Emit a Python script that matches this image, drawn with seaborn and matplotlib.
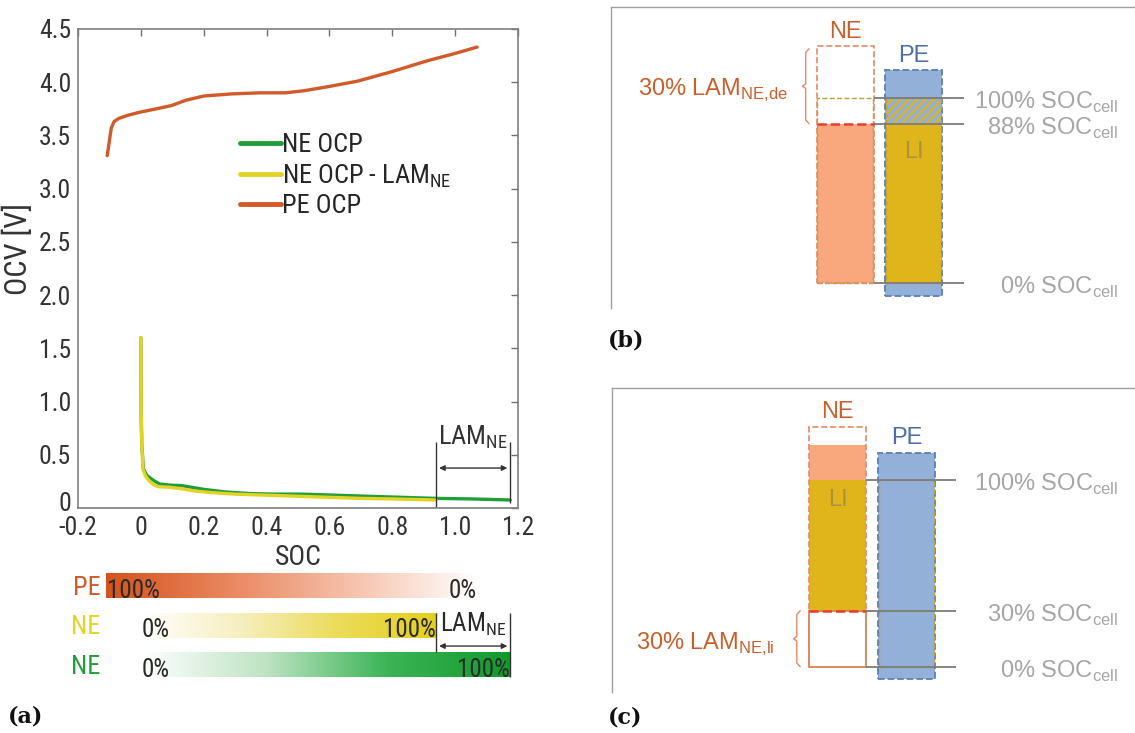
import matplotlib
matplotlib.use('Agg')
import matplotlib.pyplot as plt
from matplotlib import font_manager
from matplotlib.colors import LinearSegmentedColormap
from matplotlib.transforms import ScaledTranslation
import numpy as np
import pandas as pd
import seaborn as sns

# ----------------------
# 1. data
# ----------------------
# (a) open circuit potentials vs. SOC
pe_soc = [-0.107, -0.100, -0.094, -0.085, -0.070, -0.040, 0.0, 0.05, 0.097, 0.143, 0.20,
          0.29, 0.38, 0.46, 0.52, 0.60, 0.69, 0.80, 0.91, 1.00, 1.07]
pe_ocv = [3.31, 3.45, 3.57, 3.63, 3.66, 3.69, 3.72, 3.75, 3.78, 3.83, 3.87,
          3.89, 3.90, 3.90, 3.92, 3.96, 4.01, 4.10, 4.20, 4.27, 4.33]

ne_soc = [0.0, 0.001, 0.003, 0.008, 0.018, 0.030, 0.045, 0.060, 0.090, 0.130, 0.160,
          0.20, 0.27, 0.35, 0.42, 0.51, 0.62, 0.72, 0.83, 0.94, 1.05, 1.175]
ne_ocv = [1.60, 0.90, 0.60, 0.37, 0.31, 0.28, 0.25, 0.225, 0.215, 0.21, 0.195,
          0.175, 0.15, 0.135, 0.13, 0.13, 0.12, 0.11, 0.10, 0.09, 0.085, 0.075]

ne_lam_soc = [0.0, 0.001, 0.003, 0.007, 0.015, 0.025, 0.040, 0.055, 0.090, 0.130, 0.170,
              0.22, 0.30, 0.40, 0.50, 0.60, 0.70, 0.80, 0.94]
ne_lam_ocv = [1.60, 0.90, 0.60, 0.36, 0.30, 0.26, 0.22, 0.20, 0.195, 0.18, 0.16,
              0.145, 0.13, 0.12, 0.11, 0.10, 0.09, 0.085, 0.075]

x_ticks = [-0.2, 0, 0.2, 0.4, 0.6, 0.8, 1.0, 1.2]
x_ticklabels = ['-0.2', '0', '0.2', '0.4', '0.6', '0.8', '1.0', '1.2']
y_ticks = [0, 0.5, 1.0, 1.5, 2.0, 2.5, 3.0, 3.5, 4.0, 4.5]
y_ticklabels = ['0', '0.5', '1.0', '1.5', '2.0', '2.5', '3.0', '3.5', '4.0', '4.5']

# SOC windows of the electrode bars under (a)
bar_names = ['PE', 'NE', 'NE']
bar_start = [-0.11, 0.0, 0.0]
bar_end = [1.07, 0.94, 1.175]
bar_left_text = ['100%', '0%', '0%']
bar_right_text = ['0%', '100%', '100%']
lam_ne = [0.94, 1.175]

# (b) LAM_NE,de  (levels in % of cell capacity)
b_ne_total = 128
b_ne_left = 86
b_cell_full = 100
b_pe_range = [-7, 115]
b_soc_levels = [100, 86, 0]
b_soc_text = ['100%', '88%', '0%']

# (c) LAM_NE,li
c_ne_total = 128
c_ne_fill_top = 118.5
c_li_range = [30, 100]
c_pe_range = [-6.5, 114.5]
c_soc_levels = [100, 30, 0]
c_soc_text = ['100%', '30%', '0%']

# ----------------------
# 2. style
# ----------------------
sns.set_style('white')
ttf = font_manager.fontManager.ttflist
avail = {f.name for f in ttf}
narrow, narrow_stretch = 'Liberation Sans', 'normal'
for cand in ['Liberation Sans Narrow', 'Roboto Condensed', 'Arial Narrow',
             'Noto Sans Condensed', 'Open Sans Condensed']:
    if cand in avail:
        narrow = cand
        break
else:
    if any(f.name == 'DejaVu Sans' and f.stretch == 'condensed' for f in ttf):
        narrow, narrow_stretch = 'DejaVu Sans', 'condensed'
plt.rcParams['font.family'] = [narrow, 'DejaVu Sans']
plt.rcParams['font.stretch'] = narrow_stretch
plt.rcParams['mathtext.fontset'] = 'custom'
plt.rcParams['mathtext.rm'] = narrow if narrow_stretch == 'normal' else 'DejaVu Sans:stretch=condensed'
plt.rcParams['mathtext.sf'] = 'Liberation Sans'
plt.rcParams['hatch.linewidth'] = 1.6

c_green = '#1f9e3a'
c_yellow = '#e3d324'
c_orange = '#d2592a'
c_salmon = '#f8a87c'
c_gold = '#e0b51b'
c_blue = '#93b1d8'
c_blue_edge = '#5a7fb8'
c_ne_edge = '#e58a66'
c_olive = '#b9a13c'
c_red = '#ec3b2a'
c_gray_line = '#7c7c7c'
c_gray_text = '#a6a6a6'
c_ne_text = '#c9602c'
c_pe_text = '#4c70a6'

fig = plt.figure(figsize=(11.35, 7.33), dpi=100)

# ----------------------
# 3. (a) OCP curves
# ----------------------
ax = fig.add_axes([0.0687, 0.3070, 0.3877, 0.6535])
lam_label = r'NE OCP - LAM$_{\mathrm{NE}}$'
curves = pd.concat([
    pd.DataFrame({'SOC': ne_soc, 'OCV': ne_ocv, 'curve': 'NE OCP'}),
    pd.DataFrame({'SOC': ne_lam_soc, 'OCV': ne_lam_ocv, 'curve': lam_label}),
    pd.DataFrame({'SOC': pe_soc, 'OCV': pe_ocv, 'curve': 'PE OCP'}),
], ignore_index=True)
palette = {'NE OCP': c_green, lam_label: c_yellow, 'PE OCP': c_orange}
sns.lineplot(data=curves, x='SOC', y='OCV', hue='curve', palette=palette,
             sort=False, estimator=None, lw=2.4, ax=ax)

ax.set_xlim(-0.2, 1.2)
ax.set_ylim(0, 4.5)
ax.set_xticks(x_ticks, x_ticklabels)
ax.set_yticks(y_ticks, y_ticklabels)
ax.tick_params(direction='in', length=5, width=1, color='#707070', top=True, right=True,
               labelsize=18.5, labelcolor='#333333')
ax.tick_params(axis='x', pad=6)
ax.tick_params(axis='y', pad=5)
# MATLAB puts the "0" label a little above the corner
zero_lab = ax.get_yticklabels()[0]
zero_lab.set_transform(zero_lab.get_transform() + ScaledTranslation(0, 5 / 72, fig.dpi_scale_trans))
for s in ax.spines.values():
    s.set_color('#808080')
    s.set_linewidth(1.2)
ax.set_xlabel('SOC', fontsize=20, color='#333333', labelpad=3)
ax.set_ylabel('OCV [V]', fontsize=22, color='#333333')
ax.yaxis.set_label_coords(-0.102, 0.54)

h, l = ax.get_legend_handles_labels()
leg = ax.legend(h, l, loc='upper left', bbox_to_anchor=(0.368, 0.782), frameon=False,
                fontsize=19, handlelength=1.55, handletextpad=0.05, labelspacing=0.18,
                borderpad=0, borderaxespad=0)
for line in leg.get_lines():
    line.set_linewidth(3.5)

# LAM_NE marker inside the plot
ax.vlines(lam_ne[0], 0, 0.62, color='#333333', lw=1)
ax.vlines(lam_ne[1], 0.05, 0.62, color='#333333', lw=1)
ax.annotate('', xy=(lam_ne[0], 0.375), xytext=(lam_ne[1], 0.375),
            arrowprops=dict(arrowstyle='<|-|>', color='#333333', lw=1, mutation_scale=8))
ax.text(sum(lam_ne) / 2, 0.66, r'LAM$_{\mathrm{NE}}$', ha='center', va='center',
        fontsize=19, color='#333333')

# ----------------------
# 4. (a) electrode SOC bars
# ----------------------
axb = fig.add_axes([0.0687, 0.0655, 0.3877, 0.1596])
axb.patch.set_visible(False)
row_colors = [c_orange, c_yellow, c_green]
ramps = [
    LinearSegmentedColormap.from_list('pe', ['#d4531c', '#e9875f', '#f6c2ac', '#ffffff']),
    LinearSegmentedColormap.from_list('ne_y', ['#ffffff', '#f6efbf', '#ecdc5a', '#e4cf1c']),
    LinearSegmentedColormap.from_list('ne_g', ['#ffffff', '#bfe4c4', '#3cb456', '#119a2c']),
]
ramp = np.linspace(0, 1, 256)[None, :]
bar_h = 0.61
for i, name in enumerate(bar_names):
    axb.imshow(ramp, extent=(bar_start[i], bar_end[i], i + bar_h / 2, i - bar_h / 2),
               cmap=ramps[i], aspect='auto', interpolation='bicubic')
    axb.text(-0.128, i + 0.05, name, ha='right', va='center', fontsize=19, color=row_colors[i])
    axb.text(bar_start[i] + 0.003, i + 0.12, bar_left_text[i], ha='left', va='center',
             fontsize=18, color='#2a2a2a')
    axb.text(bar_end[i], i + 0.12, bar_right_text[i], ha='right', va='center',
             fontsize=18, color='#2a2a2a')
axb.vlines(lam_ne[0], 0.68, 1.67, color='#333333', lw=1)
axb.vlines(lam_ne[1], 0.68, 2.3, color='#333333', lw=1)
axb.annotate('', xy=(lam_ne[0], 1.52), xytext=(lam_ne[1], 1.52),
             arrowprops=dict(arrowstyle='<|-|>', color='#333333', lw=1, mutation_scale=8))
axb.text(sum(lam_ne) / 2, 0.98, r'LAM$_{\mathrm{NE}}$', ha='center', va='center',
         fontsize=18, color='#2a2a2a')
axb.set_xlim(-0.2, 1.2)
axb.set_ylim(2.506, -0.456)
axb.axis('off')


# ----------------------
# 5. (b) and (c) electrode balance sketches
# ----------------------
def frame(a, xlim):
    a.set_xlim(*xlim)
    a.set_ylim(-13.5, 149)
    a.set_xticks([])
    a.set_yticks([])
    a.spines['right'].set_visible(False)
    a.spines['bottom'].set_visible(False)
    for s in ['left', 'top']:
        a.spines[s].set_color('#a0a0a0')
        a.spines[s].set_linewidth(1.0)


def brace(a, x, y0, y1, color):
    ym = (y0 + y1) / 2
    d = 0.05
    a.plot([x + d, x, x, x - d, x, x, x + d],
           [y1, y1 - 2, ym + 1.2, ym, ym - 1.2, y0 + 2, y0], color=color, lw=1)


def soc_labels(a, levels, texts, x_text):
    a.hlines(levels, w / 2, 1.73, color=c_gray_line, lw=1.3, zorder=6)
    for lvl, t in zip(levels, texts):
        a.text(x_text, lvl - 2.5, t + r' SOC$_{\mathsf{cell}}$', ha='right', va='center',
               fontsize=17, color=c_gray_text, family='Liberation Sans', stretch='normal')


w = 0.83
txt_kw = dict(ha='center', va='center', fontsize=17, family='Liberation Sans', stretch='normal')

# (b)
axr = fig.add_axes([0.5383, 0.5798, 0.4617, 0.4106])
frame(axr, (-3.42, 4.23))
axr.bar(1, b_pe_range[1] - b_pe_range[0], bottom=b_pe_range[0], width=w, color=c_blue,
        edgecolor=c_blue_edge, ls='--', lw=1.3)
axr.bar(1, b_ne_left, bottom=0, width=w * 0.96, color=c_gold, lw=0)
axr.bar(1, b_cell_full - b_ne_left, bottom=b_ne_left, width=w * 0.96, facecolor='none',
        edgecolor=c_gold, hatch='////', lw=0)
axr.bar(1, b_cell_full, bottom=0, width=w * 0.96, fill=False, edgecolor=c_olive, ls='--', lw=1)
axr.bar(0, b_ne_left, bottom=0, width=w, color=c_salmon, lw=0)
axr.bar(0, b_cell_full, bottom=0, width=w * 0.98, fill=False, edgecolor=c_olive, ls='--', lw=1)
axr.bar(0, b_ne_total, bottom=0, width=w, fill=False, edgecolor=c_ne_edge, ls='--', lw=1.2)
axr.hlines(b_ne_left, -w / 2, w / 2, color=c_red, ls='--', lw=1.8, zorder=5)
soc_labels(axr, b_soc_levels, b_soc_text, 3.98)
axr.text(0, b_ne_total + 7.5, 'NE', color=c_ne_text, **txt_kw)
axr.text(1, b_pe_range[1] + 7.5, 'PE', color=c_pe_text, **txt_kw)
axr.text(1, 71, 'LI', color='#9c8a48', alpha=0.8, **txt_kw)
brace(axr, -0.577, b_ne_left, b_ne_total - 1.5, c_ne_edge)
axr.text(-0.84, (b_ne_left + b_ne_total) / 2 - 3, r'30% LAM$_{\mathsf{NE{,}de}}$', ha='right',
         va='center', fontsize=17, color=c_ne_text, family='Liberation Sans', stretch='normal')

# (c)
axc = fig.add_axes([0.5392, 0.0559, 0.4608, 0.4147])
frame(axc, (-3.30, 4.34))
axc.bar(1, c_pe_range[1] - c_pe_range[0], bottom=c_pe_range[0], width=w, color=c_blue,
        edgecolor=c_blue_edge, ls='--', lw=1.3)
axc.bar(1, c_li_range[1], bottom=0, width=w * 0.96, fill=False, edgecolor=c_olive, ls='--', lw=1)
axc.hlines(c_li_range[0], 1 - w * 0.48, 1 + w * 0.48, color=c_olive, ls='--', lw=1)
axc.bar(0, c_ne_fill_top - c_li_range[1], bottom=c_li_range[1], width=w, color=c_salmon, lw=0)
axc.bar(0, c_li_range[1] - c_li_range[0], bottom=c_li_range[0], width=w, color=c_gold, lw=0)
axc.bar(0, c_li_range[0], bottom=0, width=w, fill=False, edgecolor='#c98a52', lw=1.3)
axc.bar(0, c_ne_total, bottom=0, width=w, fill=False, edgecolor=c_ne_edge, ls='--', lw=1.2)
axc.hlines(c_li_range[0], -w / 2, w / 2, color=c_red, ls='--', lw=1.8, zorder=5)
soc_labels(axc, c_soc_levels, c_soc_text, 4.09)
axc.text(0, c_ne_total + 8, 'NE', color=c_ne_text, **txt_kw)
axc.text(1, c_pe_range[1] + 8, 'PE', color=c_pe_text, **txt_kw)
axc.text(0, 89, 'LI', color='#9c8a48', alpha=0.8, **txt_kw)
brace(axc, -0.6, 0, c_li_range[0], c_ne_edge)
axc.text(-0.92, c_li_range[0] / 2 - 3, r'30% LAM$_{\mathsf{NE{,}li}}$', ha='right',
         va='center', fontsize=17, color=c_ne_text, family='Liberation Sans', stretch='normal')

# panel letters
for x, y, s in [(0.007, 0.022, '(a)'), (0.536, 0.536, '(b)'), (0.536, 0.021, '(c)')]:
    fig.text(x, y, s, ha='left', va='center', fontsize=16, fontweight='bold',
             family='DejaVu Serif', stretch='normal', color='#111111')

fig.savefig('out.png', dpi=100, facecolor='white')
